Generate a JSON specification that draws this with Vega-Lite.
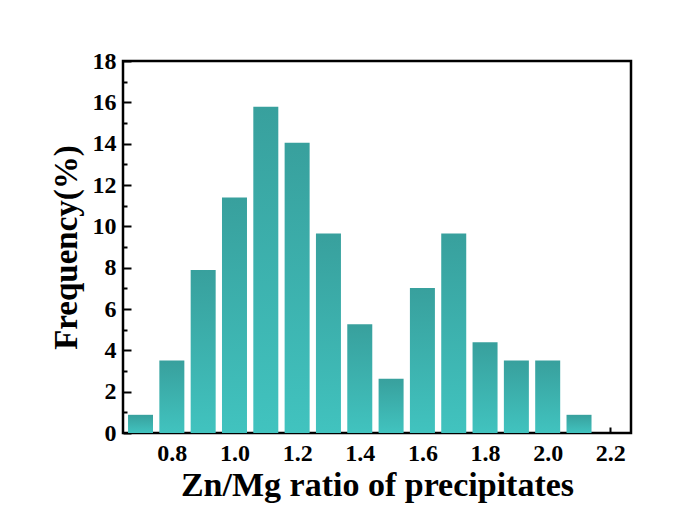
{
  "$schema": "https://vega.github.io/schema/vega-lite/v6.json",
  "width": 508,
  "height": 372,
  "autosize": "none",
  "padding": {"left": 123, "top": 61, "right": 48, "bottom": 87},
  "background": "white",
  "config": {
    "view": {"stroke": "black", "strokeWidth": 2.5},
    "axis": {
      "grid": false,
      "domain": false,
      "labelFont": "Liberation Serif",
      "labelFontWeight": "bold",
      "labelColor": "black",
      "titleFont": "Liberation Serif",
      "titleFontWeight": "bold",
      "titleColor": "black",
      "tickColor": "black",
      "tickWidth": 2
    }
  },
  "data": {
    "values": [
      {"ratio": 0.7, "freq": 0.88},
      {"ratio": 0.8, "freq": 3.51},
      {"ratio": 0.9, "freq": 7.89},
      {"ratio": 1.0, "freq": 11.4},
      {"ratio": 1.1, "freq": 15.79},
      {"ratio": 1.2, "freq": 14.04},
      {"ratio": 1.3, "freq": 9.65},
      {"ratio": 1.4, "freq": 5.26},
      {"ratio": 1.5, "freq": 2.63},
      {"ratio": 1.6, "freq": 7.02},
      {"ratio": 1.7, "freq": 9.65},
      {"ratio": 1.8, "freq": 4.39},
      {"ratio": 1.9, "freq": 3.51},
      {"ratio": 2.0, "freq": 3.51},
      {"ratio": 2.1, "freq": 0.88}
    ]
  },
  "layer": [
    {
      "mark": {
        "type": "bar",
        "width": 25,
        "color": {
          "gradient": "linear",
          "x1": 0, "y1": 0, "x2": 0, "y2": 1,
          "stops": [
            {"offset": 0, "color": "#38a09d"},
            {"offset": 1, "color": "#41c3bf"}
          ]
        }
      },
      "encoding": {
        "x": {
          "field": "ratio",
          "type": "quantitative",
          "scale": {"domain": [0.66, 2.25], "nice": false, "zero": false},
          "axis": {
            "values": [0.8, 1.0, 1.2, 1.4, 1.6, 1.8, 2.0, 2.2],
            "format": ".1f",
            "tickSize": -6,
            "labelFontSize": 24,
            "labelPadding": 14,
            "title": "Zn/Mg ratio of precipitates",
            "titleFontSize": 34,
            "titlePadding": 3
          }
        },
        "y": {
          "field": "freq",
          "type": "quantitative",
          "scale": {"domain": [0, 18], "nice": false},
          "axis": {
            "values": [0, 2, 4, 6, 8, 10, 12, 14, 16, 18],
            "tickSize": -8,
            "labelFontSize": 24,
            "labelPadding": 15,
            "title": "Frequency(%)",
            "titleFontSize": 33,
            "titlePadding": 9
          }
        }
      }
    },
    {
      "mark": {"type": "rule", "opacity": 0},
      "encoding": {
        "y": {
          "field": "freq",
          "type": "quantitative",
          "axis": {
            "orient": "left",
            "values": [1, 3, 5, 7, 9, 11, 13, 15, 17],
            "labels": false,
            "tickSize": -4,
            "title": null
          }
        }
      }
    }
  ],
  "resolve": {"axis": {"y": "independent"}}
}
